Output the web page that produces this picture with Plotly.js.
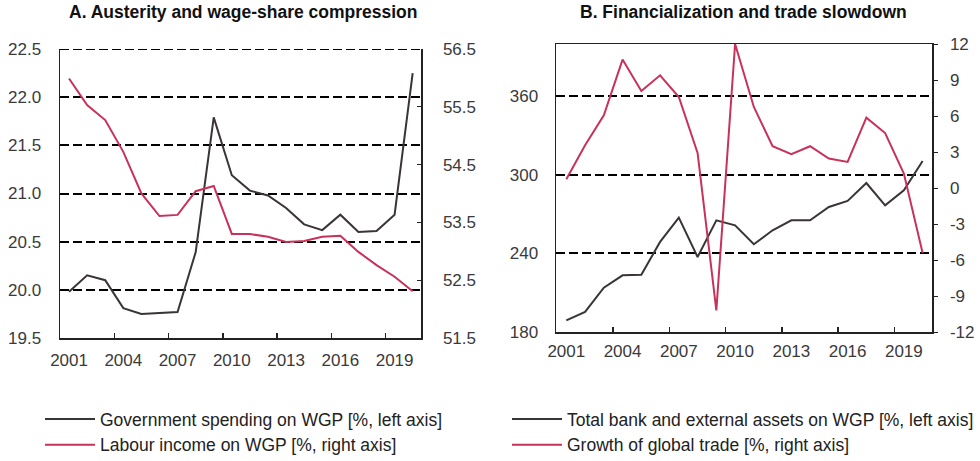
<!DOCTYPE html>
<html>
<head>
<meta charset="utf-8">
<script src="https://cdn.plot.ly/plotly-3.0.1.min.js"></script>
<style>html,body{margin:0;padding:0;background:#fff;}#chart{width:980px;height:461px;}</style>
</head>
<body>
<div id="chart"></div>
<script>
// ---- data ----
const years = [2001,2002,2003,2004,2005,2006,2007,2008,2009,2010,2011,2012,2013,2014,2015,2016,2017,2018,2019,2020];
const govSpending = [19.98,20.15,20.10,19.81,19.75,19.76,19.77,20.39,21.79,21.19,21.03,20.98,20.85,20.68,20.62,20.78,20.60,20.61,20.78,22.25];
const labourIncome = [55.99,55.53,55.27,54.72,54.00,53.61,53.63,54.04,54.13,53.30,53.30,53.25,53.16,53.18,53.25,53.27,52.99,52.76,52.56,52.31];
const bankAssets = [188.9,195.3,213.9,223.3,223.8,248.8,267.4,237.3,265.3,261.5,247.0,257.7,265.3,265.3,275.5,280.1,293.8,276.8,288.3,310.6];
const tradeGrowth = [0.73,3.56,6.06,10.7,8.08,9.39,7.58,2.92,-10.2,12.0,6.75,3.48,2.81,3.48,2.45,2.17,5.86,4.58,1.2,-5.42];
const yearTicks = [2001,2004,2007,2010,2013,2016,2019];
const yearTickLabels = ['2001','2004','2007','2010','2013','2016','2019'];
const yearMarks = [2003.5,2006.5,2009.5,2012.5,2015.5,2018.5];
const tradeTicks = [-12,-9,-6,-3,0,3,6,9,12];
const tradeTickLabels = ['-12','-9','-6','-3','0','3','6','9','12'];
const titleA = 'A. Austerity and wage-share compression';
const titleB = 'B. Financialization and trade slowdown';
const nameGov = 'Government spending on WGP [%, left axis]';
const nameLab = 'Labour income on WGP [%, right axis]';
const nameBank = 'Total bank and external assets on WGP [%, left axis]';
const nameTrade = 'Growth of global trade [%, right axis]';

const DARK = '#3b3436';
const RED = '#c8325a';
const FONT = 'Liberation Sans, Arial, sans-serif';
const TICKFONT = {family: FONT, size: 17, color: '#3a3a3a'};

const traces = [
  {x: years, y: govSpending, name: nameGov, type: 'scatter', mode: 'lines', line: {color: DARK, width: 2}, xaxis: 'x', yaxis: 'y', legend: 'legend'},
  {x: years, y: labourIncome, name: nameLab, type: 'scatter', mode: 'lines', line: {color: RED, width: 2}, xaxis: 'x', yaxis: 'y2', legend: 'legend'},
  {x: years, y: bankAssets, name: nameBank, type: 'scatter', mode: 'lines', line: {color: DARK, width: 2}, xaxis: 'x2', yaxis: 'y3', legend: 'legend2'},
  {x: years, y: tradeGrowth, name: nameTrade, type: 'scatter', mode: 'lines', line: {color: RED, width: 2}, xaxis: 'x2', yaxis: 'y4', legend: 'legend2'}
];

function xAxis(domain, range, anchor, mirror, standoff) {
  return {
    domain: domain, range: range, anchor: anchor,
    tickmode: 'array', tickvals: yearTicks, ticktext: yearTickLabels, ticks: '',
    minor: {tickmode: 'array', tickvals: yearMarks, ticks: 'inside', ticklen: 5, tickwidth: 1.5, tickcolor: '#222', showgrid: false},
    showgrid: false, zeroline: false, showline: true, linecolor: '#222', linewidth: 1.5, mirror: mirror,
    tickfont: TICKFONT, ticklabelstandoff: standoff, automargin: false, fixedrange: true
  };
}
function yLeft(domain, range, dtick, anchor, standoff) {
  return {
    domain: domain, range: range, dtick: dtick, tick0: range[0], anchor: anchor,
    showgrid: true, gridcolor: '#000', gridwidth: 2, griddash: '9px,4px',
    zeroline: false, showline: true, linecolor: '#222', linewidth: 1.5, ticks: '',
    tickfont: TICKFONT, ticklabelstandoff: standoff, automargin: false, fixedrange: true
  };
}

const layout = {
  width: 980, height: 461,
  margin: {l: 0, r: 0, t: 0, b: 0, autoexpand: false},
  paper_bgcolor: '#fff', plot_bgcolor: '#fff',
  font: {family: FONT, color: '#222'},
  xaxis: xAxis([60/980, 421/980], [2000.5, 2020.46], 'y', false, 6),
  yaxis: Object.assign(yLeft([(461-338)/461, (461-49)/461], [19.5, 22.5], 0.5, 'x', 14), {tickformat: '.1f'}),
  yaxis2: {
    overlaying: 'y', side: 'right', anchor: 'x', range: [51.5, 56.5], dtick: 1, tick0: 51.5, tickformat: '.1f',
    showgrid: false, zeroline: false, showline: true, linecolor: '#222', linewidth: 1.5,
    ticks: 'inside', ticklen: 4, tickcolor: '#222', tickfont: TICKFONT, ticklabelstandoff: 17, automargin: false, fixedrange: true
  },
  xaxis2: xAxis([556/980, 932/980], [2000.45, 2020.5], 'y3', true, 3),
  yaxis3: yLeft([(461-332)/461, (461-44)/461], [180, 400], 60, 'x2', 13),
  yaxis4: {
    overlaying: 'y3', side: 'right', anchor: 'x2', range: [-12, 12],
    tickmode: 'array', tickvals: tradeTicks, ticktext: tradeTickLabels,
    showgrid: false, zeroline: false, showline: true, linecolor: '#222', linewidth: 1.5,
    ticks: 'outside', ticklen: 4, tickcolor: '#222', tickfont: TICKFONT, ticklabelstandoff: 9, automargin: false, fixedrange: true
  },
  shapes: [
    // dashed top grid line of panel A (the 22.5 level)
    {type: 'line', xref: 'x domain', yref: 'y', x0: 0, x1: 1, y0: 22.5, y1: 22.5, line: {color: '#000', width: 2, dash: '9px,4px'}, layer: 'above'}
  ],
  showlegend: true,
  legend: {x: 40/980, y: (461-401)/461, xanchor: 'left', yanchor: 'top', orientation: 'v', itemwidth: 50,
    font: {family: FONT, size: 17.5, color: '#222'}, bgcolor: 'rgba(0,0,0,0)', tracegroupgap: 0, itemclick: false},
  legend2: {x: 507/980, y: (461-401)/461, xanchor: 'left', yanchor: 'top', orientation: 'v', itemwidth: 50,
    font: {family: FONT, size: 17.5, color: '#222'}, bgcolor: 'rgba(0,0,0,0)', tracegroupgap: 0, itemclick: false},
  annotations: [
    {text: '<b>' + titleA + '</b>', xref: 'paper', yref: 'paper', x: 243/980, y: (461-12)/461, xanchor: 'center', yanchor: 'middle', showarrow: false, font: {family: FONT, size: 17.5, color: '#111'}},
    {text: '<b>' + titleB + '</b>', xref: 'paper', yref: 'paper', x: 743/980, y: (461-12)/461, xanchor: 'center', yanchor: 'middle', showarrow: false, font: {family: FONT, size: 17.5, color: '#111'}}
  ]
};

Plotly.newPlot('chart', traces, layout, {staticPlot: true, displayModeBar: false});
</script>
</body>
</html>
